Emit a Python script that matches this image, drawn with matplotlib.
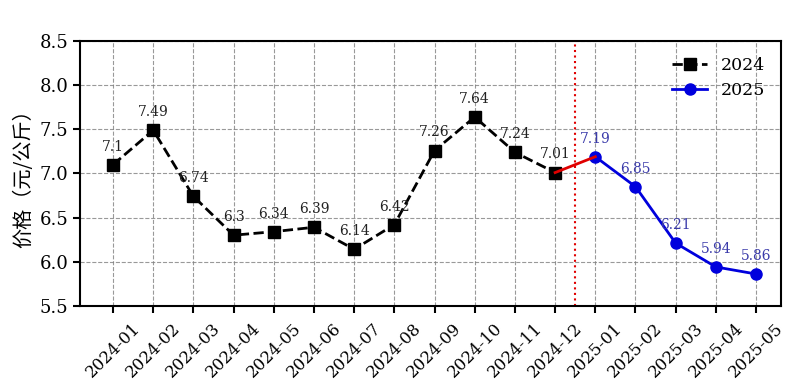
import matplotlib.pyplot as plt

plt.rcParams['font.family'] = ['DejaVu Serif', 'Noto Sans CJK SC']
plt.rcParams['axes.unicode_minus'] = False

# 月份和价格
months = ['2024-01', '2024-02', '2024-03', '2024-04', '2024-05', '2024-06',
          '2024-07', '2024-08', '2024-09', '2024-10', '2024-11', '2024-12',
          '2025-01', '2025-02', '2025-03', '2025-04', '2025-05']
price_2024 = [7.1, 7.49, 6.74, 6.3, 6.34, 6.39, 6.14, 6.42, 7.26, 7.64, 7.24, 7.01]
price_2025 = [7.19, 6.85, 6.21, 5.94, 5.86]

x24 = list(range(len(price_2024)))
x25 = list(range(len(price_2024), len(months)))

fig, ax = plt.subplots(figsize=(8.01, 3.92), dpi=100)
fig.subplots_adjust(left=0.1, right=0.975, top=0.895, bottom=0.22)

ax.plot(x24, price_2024, 'k--', marker='s', markersize=8, linewidth=2, label='2024')
ax.plot(x25, price_2025, color='#0000dd', marker='o', markersize=8, linewidth=2, label='2025')
# 连接线
ax.plot([x24[-1], x25[0]], [price_2024[-1], price_2025[0]], color='#e00000', linewidth=2)
ax.axvline(11.5, color='#e00000', linestyle=':', linewidth=1.5)

for x, y in zip(x24, price_2024):
    ax.annotate(f'{y:g}', (x, y), xytext=(0, 8), textcoords='offset points',
                ha='center', va='bottom', fontsize=10, color='#222222')
for x, y in zip(x25, price_2025):
    ax.annotate(f'{y:g}', (x, y), xytext=(0, 8), textcoords='offset points',
                ha='center', va='bottom', fontsize=10, color='#3a3aaa')

ax.set_xticks(range(len(months)))
ax.set_xticklabels(months, rotation=45, fontsize=12)
ax.set_xlim(-0.82, 16.62)
ax.set_ylim(5.5, 8.5)
ax.set_yticks([5.5, 6.0, 6.5, 7.0, 7.5, 8.0, 8.5])
ax.set_yticklabels(['5.5', '6.0', '6.5', '7.0', '7.5', '8.0', '8.5'], fontsize=13)
ax.set_ylabel('价格（元/公斤）', fontsize=14.5, family=['Noto Sans CJK SC'])
ax.grid(True, linestyle='--', color='gray', alpha=0.8)
for s in ax.spines.values():
    s.set_linewidth(1.5)
ax.tick_params(width=1.5, length=5)
ax.tick_params(axis='x', pad=5)
ax.legend(loc='upper right', frameon=False, fontsize=12.5)

plt.savefig('out.png')
